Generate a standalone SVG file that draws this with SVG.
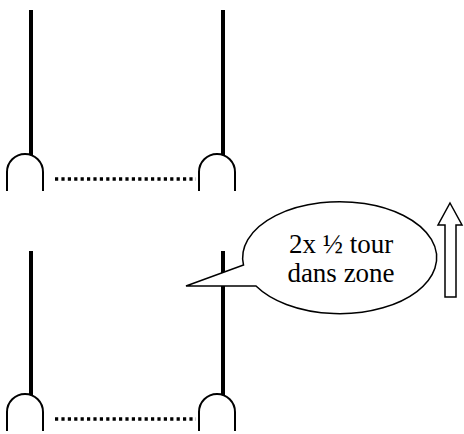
<svg xmlns="http://www.w3.org/2000/svg" width="464" height="434" viewBox="0 0 464 434">
<style>
.pole{stroke:#000;stroke-width:4;fill:none}
.cone{stroke:#000;stroke-width:2;fill:#fff}
.dots{stroke:#000;stroke-width:3.5;stroke-dasharray:3.2 3.2;fill:none}
.outline{stroke:#000;stroke-width:1.5;fill:#fff}
.lbl{font-family:"Liberation Serif","Times New Roman",serif;font-size:27px;fill:#000;text-anchor:middle}
</style>
<rect width="464" height="434" fill="#fff"/>
<g id="gate-top-left">
<line class="pole" x1="31" y1="10" x2="31" y2="155"/>
<path class="cone" d="M7,191 V172 A18,18 0 0 1 43,172 V191"/>
</g>
<g id="gate-top-right">
<line class="pole" x1="223" y1="10" x2="223" y2="155"/>
<path class="cone" d="M199,191 V172 A18,18 0 0 1 235,172 V191"/>
</g>
<g id="gate-bottom-left">
<line class="pole" x1="31" y1="251" x2="31" y2="395"/>
<path class="cone" d="M7,431 V412 A18,18 0 0 1 43,412 V431"/>
</g>
<g id="gate-bottom-right">
<line class="pole" x1="223" y1="251" x2="223" y2="395"/>
<path class="cone" d="M199,431 V412 A18,18 0 0 1 235,412 V431"/>
</g>
<g id="connectors">
<line class="dots" x1="55" y1="179" x2="196" y2="179"/>
<line class="dots" x1="55" y1="419" x2="196" y2="419"/>
</g>
<g id="callout">
<path class="outline" d="M243.5,265 A97,56 0 1 1 256,286 L186,286 Z"/>
<text class="lbl" x="341" y="253">2x ½ tour</text>
<text class="lbl" x="341" y="282">dans zone</text>
</g>
<g id="arrow-up">
<path class="outline" d="M450,203 L462,225 L456,225 L456,297 L445,297 L445,225 L438,225 Z"/>
</g>
</svg>
